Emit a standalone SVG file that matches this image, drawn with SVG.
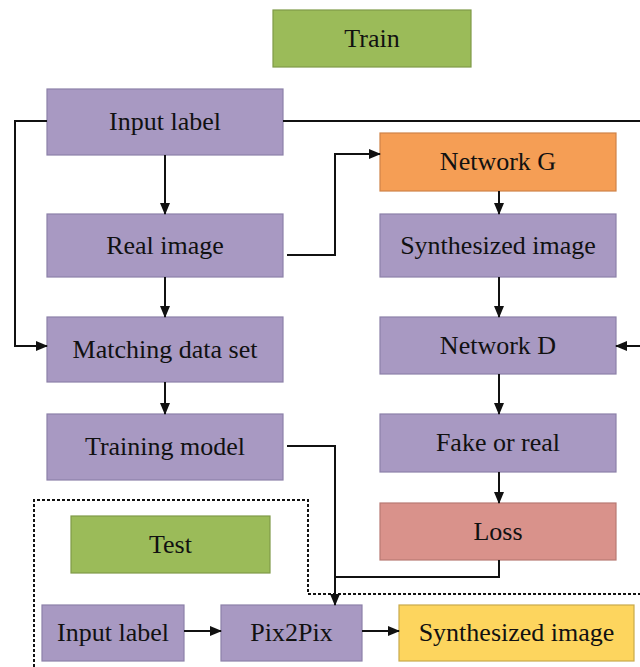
<svg xmlns="http://www.w3.org/2000/svg" width="640" height="667" viewBox="0 0 640 667">
<defs>
<marker id="ah" markerUnits="userSpaceOnUse" markerWidth="12" markerHeight="10" refX="11" refY="5" orient="auto">
<path d="M0,0 L12,5 L0,10 z" fill="#111"/>
</marker>
<style>
rect{stroke-width:1.2}
.p{fill:#a899c2;stroke:#8c80a8}
.g{fill:#9bbb59;stroke:#7f9a48}
.o{fill:#f59e55;stroke:#cf8348}
.r{fill:#d9928b;stroke:#b87a74}
.y{fill:#fdd55e;stroke:#c9aa4b}
text{font-size:26px;fill:#111;text-anchor:middle}
.c path{fill:none;stroke:#111;stroke-width:2}
.d{fill:none;stroke:#111;stroke-width:2;stroke-dasharray:3,2}
</style>
</defs>
<rect width="640" height="667" fill="#fff" style="stroke:none"/>
<g font-family="Liberation Serif, Times New Roman, serif">
<g id="train"><rect class="g" x="273" y="10" width="198" height="57"/><text x="372" y="47">Train</text></g>
<g id="input-label"><rect class="p" x="47" y="89" width="236" height="66"/><text x="165" y="130">Input label</text></g>
<g id="real-image"><rect class="p" x="47" y="214" width="236" height="63"/><text x="165" y="254">Real image</text></g>
<g id="matching"><rect class="p" x="47" y="317" width="236" height="65"/><text x="165" y="358">Matching data set</text></g>
<g id="training-model"><rect class="p" x="47" y="414" width="236" height="66"/><text x="165" y="455">Training model</text></g>
<g id="network-g"><rect class="o" x="380" y="133" width="236" height="58"/><text x="498" y="170">Network G</text></g>
<g id="synth"><rect class="p" x="380" y="214" width="236" height="63"/><text x="498" y="254">Synthesized image</text></g>
<g id="network-d"><rect class="p" x="380" y="317" width="236" height="57"/><text x="498" y="354">Network D</text></g>
<g id="fake-real"><rect class="p" x="380" y="414" width="236" height="58"/><text x="498" y="451">Fake or real</text></g>
<g id="loss"><rect class="r" x="380" y="503" width="236" height="57"/><text x="498" y="540">Loss</text></g>
<g id="test"><rect class="g" x="71" y="516" width="199" height="57"/><text x="170.5" y="553">Test</text></g>
<g id="test-input"><rect class="p" x="42" y="605" width="142" height="56"/><text x="113" y="641">Input label</text></g>
<g id="pix2pix"><rect class="p" x="221" y="605" width="141" height="56"/><text x="291.5" y="641">Pix2Pix</text></g>
<g id="test-synth"><rect class="y" x="399" y="605" width="235" height="56"/><text x="516.5" y="641">Synthesized image</text></g>
</g>
<path class="d" d="M34,667 V500 H308 V594 H640"/>
<g class="c" id="connectors">
<path d="M283,121 H640"/>
<path d="M47,121 H15 V346 H47" marker-end="url(#ah)"/>
<path d="M165,155 V214" marker-end="url(#ah)"/>
<path d="M287,255 H335 V154 H380" marker-end="url(#ah)"/>
<path d="M499,191 V214" marker-end="url(#ah)"/>
<path d="M165,277 V317" marker-end="url(#ah)"/>
<path d="M165,382 V414" marker-end="url(#ah)"/>
<path d="M499,277 V317" marker-end="url(#ah)"/>
<path d="M640,346 H616" marker-end="url(#ah)"/>
<path d="M499,374 V414" marker-end="url(#ah)"/>
<path d="M499,472 V503" marker-end="url(#ah)"/>
<path d="M287,446 H335 V605" marker-end="url(#ah)"/>
<path d="M499,560 V577 H335"/>
<path d="M184,631 H221" marker-end="url(#ah)"/>
<path d="M362,631 H399" marker-end="url(#ah)"/>
</g>
</svg>
